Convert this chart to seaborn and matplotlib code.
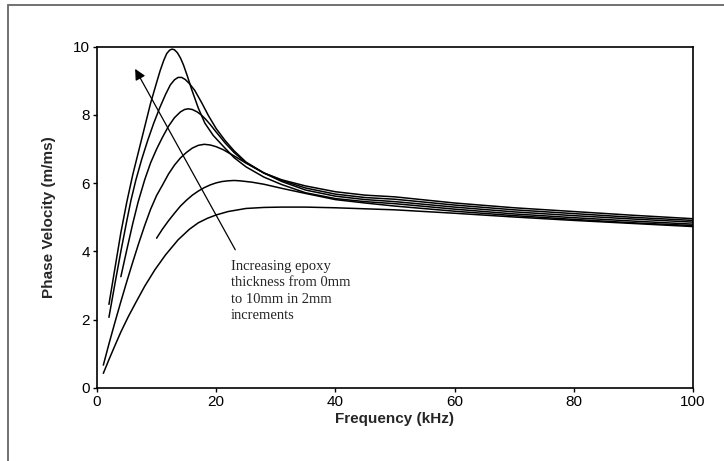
import numpy as np
import pandas as pd
import matplotlib
matplotlib.use("Agg")
import matplotlib.pyplot as plt
from matplotlib.patches import Rectangle
import seaborn as sns

sns.set_style("ticks")
plt.rcParams['font.family'] = ['Liberation Sans', 'DejaVu Sans']

# values (frequency in kHz, phase velocity in m/ms)
freq_0mm = [1.06, 2, 3, 4, 5.25, 6.5, 8, 9.7, 11.5, 13.6, 15.5, 17, 18.5, 20, 22, 25, 28, 31, 35,
            40, 45, 50, 60, 70, 80, 90, 100]
vel_0mm = [0.43, 0.83, 1.24, 1.64, 2.09, 2.5, 2.98, 3.46, 3.9, 4.34, 4.65, 4.84, 4.97, 5.07, 5.17,
           5.26, 5.29, 5.30, 5.30, 5.28, 5.25, 5.22, 5.12, 5.01, 4.91, 4.82, 4.73]

freq_2mm = [10, 11, 12, 13, 14, 15, 16, 17, 18, 19, 20, 21, 22, 23, 24, 26, 28, 31, 35, 40, 45,
            50, 60, 70, 80, 90, 100]
vel_2mm = [4.39, 4.66, 4.9, 5.12, 5.33, 5.5, 5.65, 5.77, 5.87, 5.95, 6.01, 6.05, 6.07, 6.08,
           6.07, 6.03, 5.97, 5.85, 5.70, 5.52, 5.42, 5.33, 5.18, 5.05, 4.94, 4.84, 4.76]

freq_4mm = [1.06, 2, 3, 4, 5, 6, 7, 8, 9, 10, 11, 12, 13, 14, 15, 16, 17, 18, 19, 20, 21.2, 23,
            25, 28, 31, 35, 40, 45, 50, 60, 70, 80, 90, 100]
vel_4mm = [0.67, 1.29, 1.92, 2.53, 3.12, 3.69, 4.24, 4.76, 5.24, 5.64, 5.95, 6.27, 6.53, 6.74,
           6.9, 7.03, 7.11, 7.14, 7.12, 7.07, 6.98, 6.8, 6.59, 6.3, 6.1, 5.92, 5.75, 5.65, 5.60,
           5.42, 5.28, 5.17, 5.06, 4.96]

freq_6mm = [4, 5, 6, 6.9, 8, 9, 10, 11, 12, 13, 14, 14.7, 15.3, 16, 16.8, 17.5, 18.2, 19, 20,
            21.5, 23, 25, 28, 31, 35, 40, 45, 50, 60, 70, 80, 90, 100]
vel_6mm = [3.26, 4.05, 4.82, 5.45, 6.1, 6.6, 7.0, 7.35, 7.67, 7.92, 8.09, 8.16, 8.18, 8.16, 8.09,
           8.0, 7.88, 7.72, 7.5, 7.18, 6.9, 6.6, 6.3, 6.08, 5.86, 5.68, 5.58, 5.53, 5.36, 5.22,
           5.11, 5.00, 4.91]

freq_8mm = [2, 3, 4, 5, 5.7, 6.5, 7.5, 8.5, 9.5, 10.5, 11.5, 12.3, 13, 13.6, 14.2, 14.8, 15.5,
            16.4, 17.5, 18.7, 20, 21.5, 23, 25, 28, 31, 35, 40, 45, 50, 60, 70, 80, 90, 100]
vel_8mm = [2.07, 3.05, 4.0, 4.9, 5.5, 6.08, 6.7, 7.25, 7.75, 8.2, 8.6, 8.88, 9.03, 9.1, 9.1, 9.04,
           8.92, 8.72, 8.38, 7.98, 7.6, 7.25, 6.95, 6.62, 6.3, 6.05, 5.8, 5.62, 5.52, 5.46, 5.30,
           5.16, 5.05, 4.95, 4.86]

freq_10mm = [2, 3, 4, 5, 6, 7, 8, 9, 10, 10.6, 11.2, 11.7, 12.2, 12.6, 13.0, 13.5, 14.0, 14.5,
             15.2, 15.9, 17, 18.1, 19.5, 21.2, 23, 25, 28, 31, 35, 40, 45, 50, 60, 70, 80, 90, 100]
vel_10mm = [2.45, 3.5, 4.55, 5.45, 6.25, 6.95, 7.65, 8.35, 8.95, 9.3, 9.6, 9.8, 9.9, 9.93, 9.91,
            9.82, 9.67, 9.47, 9.12, 8.74, 8.2, 7.76, 7.4, 7.08, 6.75, 6.48, 6.18, 5.96, 5.72,
            5.55, 5.46, 5.40, 5.24, 5.10, 4.99, 4.89, 4.80]

thickness = ['0mm', '2mm', '4mm', '6mm', '8mm', '10mm']
freqs = [freq_0mm, freq_2mm, freq_4mm, freq_6mm, freq_8mm, freq_10mm]
vels = [vel_0mm, vel_2mm, vel_4mm, vel_6mm, vel_8mm, vel_10mm]

df = pd.concat([pd.DataFrame({'freq': f, 'vel': v, 'thickness': t})
                for f, v, t in zip(freqs, vels, thickness)], ignore_index=True)

fig = plt.figure(figsize=(7.24, 4.61), dpi=100)
ax = fig.add_axes([0.134, 0.1584, 0.823, 0.7403])

sns.lineplot(data=df, x='freq', y='vel', units='thickness', estimator=None, sort=False,
             color='black', linewidth=1.1, ax=ax, legend=False)

ax.set_xlim(0, 100)
ax.set_ylim(0, 10)
ax.set_xticks([0, 20, 40, 60, 80, 100])
ax.set_yticks([0, 2, 4, 6, 8, 10])
ax.tick_params(axis='both', labelsize=11, length=3, width=1, pad=2, colors='black')
for side in ['left', 'right', 'top', 'bottom']:
    ax.spines[side].set_visible(True)
    ax.spines[side].set_color('black')
    ax.spines[side].set_linewidth(1.2)

ax.set_xlabel('Frequency (kHz)', fontsize=11, fontweight='bold', labelpad=2)
ax.set_ylabel('Phase Velocity (m/ms)', fontsize=11, fontweight='bold', labelpad=12)

# arrow and note
ax.annotate('', xy=(6.4, 9.35), xytext=(23.2, 4.05),
            arrowprops=dict(arrowstyle='-|>', color='black', lw=0.9,
                            mutation_scale=16, shrinkA=0, shrinkB=0))
ax.text(22.5, 3.75, 'Increasing epoxy\nthickness from 0mm\nto 10mm in 2mm\nincrements',
        family=['Liberation Serif', 'DejaVu Serif'], fontsize=10.5, va='top', ha='left',
        linespacing=1.35)

# grey frame around the chart area
fig.add_artist(Rectangle((8 / 724, -0.1), 1.2, 1.1 - 5 / 461, transform=fig.transFigure,
                         fill=False, edgecolor='#666666', linewidth=1.3, clip_on=False))

fig.savefig('out.png', dpi=100)
